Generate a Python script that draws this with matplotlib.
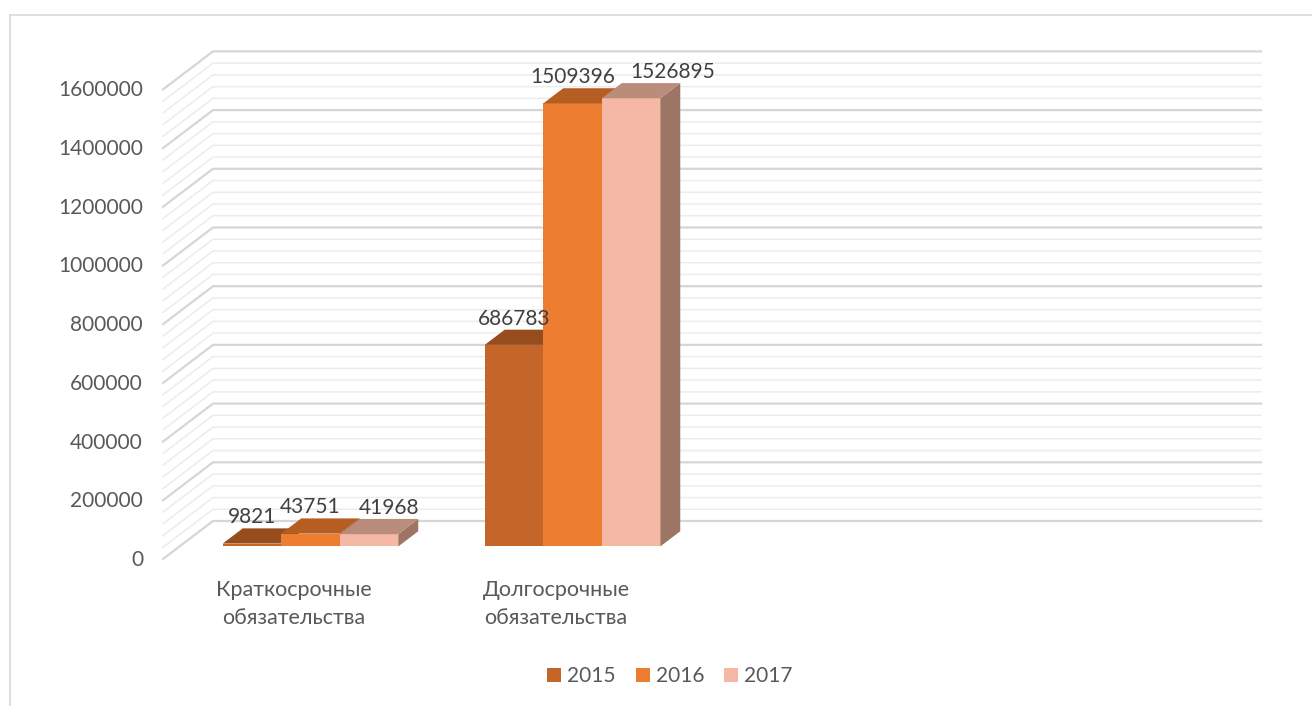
import matplotlib
matplotlib.use('Agg')
import matplotlib.pyplot as plt
from matplotlib.patches import Polygon, Patch
from matplotlib.lines import Line2D

# данные
categories = ['Краткосрочные\nобязательства', 'Долгосрочные\nобязательства']
years = ['2015', '2016', '2017']
v2015 = [9821, 686783]
v2016 = [43751, 1509396]
v2017 = [41968, 1526895]
yticks = [0, 200000, 400000, 600000, 800000, 1000000, 1200000, 1400000, 1600000]

values = [v2015, v2016, v2017]
front_colors = ['#C4662A', '#ED7D31', '#F5B8A4']
top_colors = ['#974C1E', '#B65D22', '#B98C7C']
side_colors = ['#7F3F18', '#9A4E1C', '#9C7565']

plt.rcParams['font.family'] = ['Lato', 'DejaVu Sans']
plt.rcParams['font.size'] = 15

W, H = 1312, 706
fig = plt.figure(figsize=(W / 100, H / 100), dpi=100)
# передняя плоскость диаграммы
ax = fig.add_axes([163 / W, (H - 559) / H, 1048 / W, 469.6 / H])
ax.set_xlim(-0.5, 3.5)
ax.set_ylim(0, 1600000)
ax.axis('off')

# смещение в глубину (3D эффект)
DX = 0.1908
DY = 129500

# сетка на задней и левой стенке
step = 40000
for v in range(0, 1600001, step):
    major = v % 200000 == 0
    ax.plot([-0.5, -0.5 + DX, 3.5 + DX], [v, v + DY, v + DY],
            color='#d6d6d6' if major else '#ececec',
            lw=1.6 if major else 1.1, clip_on=False, zorder=1)

# подписи оси Y
for t in yticks:
    ax.annotate(str(t), xy=(-0.5, t), xytext=(-20, -1), textcoords='offset pixels',
                ha='right', va='center', color='#595959', annotation_clip=False)

# столбцы
group = 0.67
bw = group / len(years)
d0, d1 = 0.33, 0.73
label_shift = {(0, 2): 20, (1, 2): 42}
z = 3
for i in range(len(categories)):
    for s in range(len(years)):
        v = values[s][i]
        x0 = i - group / 2 + s * bw
        x1 = x0 + bw
        front = [(x0 + d0 * DX, d0 * DY), (x1 + d0 * DX, d0 * DY),
                 (x1 + d0 * DX, v + d0 * DY), (x0 + d0 * DX, v + d0 * DY)]
        top = [(x0 + d0 * DX, v + d0 * DY), (x1 + d0 * DX, v + d0 * DY),
               (x1 + d1 * DX, v + d1 * DY), (x0 + d1 * DX, v + d1 * DY)]
        side = [(x1 + d0 * DX, d0 * DY), (x1 + d1 * DX, d1 * DY),
                (x1 + d1 * DX, v + d1 * DY), (x1 + d0 * DX, v + d0 * DY)]
        ax.add_patch(Polygon(side, closed=True, fc=side_colors[s], ec='none', zorder=z, clip_on=False))
        ax.add_patch(Polygon(front, closed=True, fc=front_colors[s], ec='none', zorder=z, clip_on=False))
        ax.add_patch(Polygon(top, closed=True, fc=top_colors[s], ec='none', zorder=z, clip_on=False))
        z += 1
        ax.annotate(str(v), xy=((x0 + x1) / 2 + d0 * DX, v + d1 * DY),
                    xytext=(label_shift.get((i, s), 0), 11), textcoords='offset pixels',
                    ha='center', va='center', color='#404040', zorder=20,
                    annotation_clip=False)

# подписи категорий
for i, c in enumerate(categories):
    ax.annotate(c, xy=(i, 0), xytext=(0, -45), textcoords='offset pixels',
                ha='center', va='center', color='#595959', linespacing=1.45,
                fontsize=15.5, annotation_clip=False)

# легенда
handles = [Patch(facecolor=front_colors[s], edgecolor='none', label=years[s]) for s in range(3)]
fig.legend(handles=handles, loc='center', bbox_to_anchor=(670 / W, 1 - 676 / H), ncol=3,
           frameon=False, handlelength=0.67, handleheight=0.67, handletextpad=0.3,
           columnspacing=0.95, labelcolor='#595959')

# рамка
fig.add_artist(Line2D([10 / W, 10 / W], [0, 1 - 15 / H], color='#d9d9d9', lw=1.2))
fig.add_artist(Line2D([10 / W, 1], [1 - 15 / H, 1 - 15 / H], color='#d9d9d9', lw=1.2))

fig.savefig('out.png', dpi=100)
